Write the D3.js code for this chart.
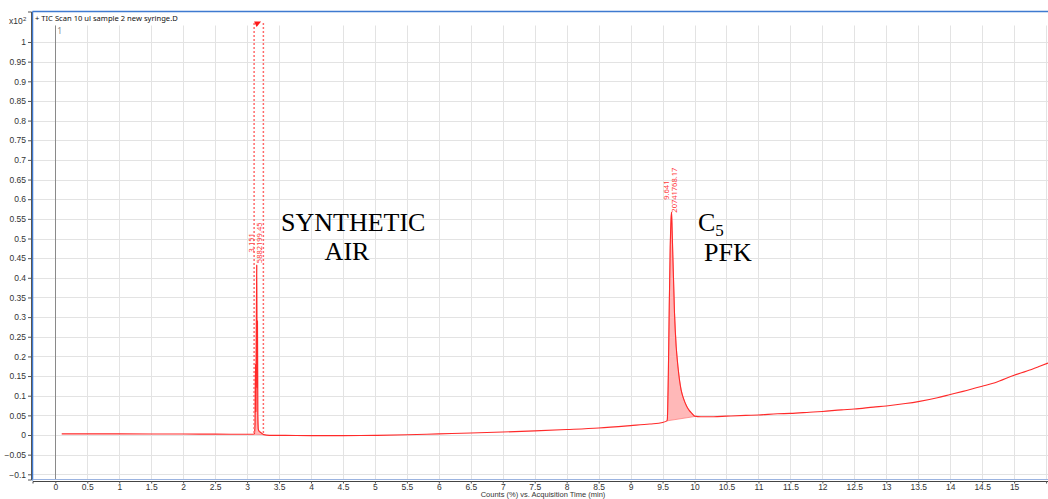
<!DOCTYPE html>
<html>
<head>
<meta charset="utf-8">
<script src="https://cdn.jsdelivr.net/npm/d3@7"></script>
<style>
  html, body { margin: 0; padding: 0; background: #fff; }
  svg { display: block; font-family: "Noto Sans", "Liberation Sans", sans-serif; }
</style>
</head>
<body>
<svg id="chart" width="1048" height="499"></svg>
<script>
// TIC chromatogram: retention time (min) vs. counts (x10^2 %)
const traceTime = [
  0.10, 0.5, 1.0, 1.5, 2.0, 2.5, 3.0, 3.10,
  3.115, 3.125, 3.131, 3.137, 3.144, 3.151, 3.157, 3.163, 3.168, 3.175, 3.19, 3.21, 3.23, 3.26,
  3.35, 3.6, 4.0, 4.5, 5.0, 5.5, 6.0, 6.5, 7.0, 7.5, 8.0, 8.5, 9.0, 9.3, 9.5, 9.568,
  9.575, 9.59, 9.605, 9.62, 9.633, 9.641, 9.65, 9.66, 9.672, 9.687, 9.713, 9.74, 9.765, 9.79,
  9.818, 9.85, 9.881, 9.92, 9.959, 10.0, 10.1, 10.3, 10.5, 10.8, 11.0, 11.3, 11.5, 11.8,
  12.0, 12.3, 12.5, 12.8, 13.0, 13.3, 13.5, 13.8, 14.0, 14.2, 14.5, 14.7, 15.0, 15.2, 15.4, 15.53
];
const traceSignal = [
  0.003, 0.003, 0.0028, 0.0026, 0.0024, 0.0022, 0.002, 0.002,
  0.004, 0.03, 0.18, 0.06, 0.26, 0.433, 0.12, 0.29, 0.05, 0.015, 0.009, 0.007, 0.004, 0.001,
  -0.001, -0.001, -0.0015, -0.0015, -0.001, 0.0005, 0.003, 0.005, 0.0075, 0.0105, 0.014, 0.018, 0.024, 0.028, 0.032, 0.036,
  0.04, 0.15, 0.33, 0.48, 0.55, 0.567, 0.52, 0.46, 0.394, 0.31, 0.225, 0.175, 0.14, 0.115,
  0.0975, 0.083, 0.072, 0.062, 0.055, 0.048, 0.0465, 0.0465, 0.048, 0.05, 0.051, 0.054, 0.055, 0.058,
  0.06, 0.064, 0.066, 0.071, 0.074, 0.08, 0.085, 0.095, 0.103, 0.111, 0.124, 0.133, 0.152, 0.163, 0.175, 0.183
];

// Integrated peaks: bounds, baseline at the bounds, apex and area
const peakStart      = [3.11, 9.568];
const peakEnd        = [3.255, 10.0];
const peakBaseStart  = [0.002, 0.036];
const peakBaseEnd    = [0.001, 0.047];
const peakApexTime   = [3.151, 9.641];
const peakApexSignal = [0.433, 0.567];
const peakArea       = [5882199.45, 20741768.17];

// Axis ticks
const xTicks = d3.range(0, 15.51, 0.5);
const yTicks = d3.range(-0.1, 1.0001, 0.05).map(v => +v.toFixed(2));

const svg = d3.select("#chart");
const W = 1048, H = 499;
const plot = { left: 32.5, right: 1048, top: 11.5, bottom: 479.5 };
const axisFont = "'Liberation Sans', Arial, sans-serif";

const x = d3.scaleLinear().domain([-0.357, 15.53]).range([plot.left, plot.right]);
const y = d3.scaleLinear().domain([-0.1132, 1.0776]).range([plot.bottom, plot.top]);

svg.append("rect").attr("width", W).attr("height", H).attr("fill", "#fff");

svg.append("defs").append("clipPath").attr("id", "plotClip")
  .append("rect")
  .attr("x", plot.left).attr("y", plot.top)
  .attr("width", plot.right - plot.left).attr("height", plot.bottom - plot.top);

const gridTop = 25.5;

// Grid
const grid = svg.append("g").attr("clip-path", "url(#plotClip)");
grid.selectAll(".vg").data(xTicks).join("line")
  .attr("x1", d => Math.round(x(d)) + 0.5).attr("x2", d => Math.round(x(d)) + 0.5)
  .attr("y1", gridTop).attr("y2", plot.bottom)
  .attr("stroke", "#e3e3e3").attr("stroke-width", 1);
grid.selectAll(".hg").data(yTicks).join("line")
  .attr("x1", plot.left).attr("x2", plot.right)
  .attr("y1", d => Math.round(y(d)) + 0.5).attr("y2", d => Math.round(y(d)) + 0.5)
  .attr("stroke", "#e3e3e3").attr("stroke-width", 1);

// Zero-time marker line
grid.append("line")
  .attr("x1", Math.round(x(0)) + 0.5).attr("x2", Math.round(x(0)) + 0.5)
  .attr("y1", gridTop).attr("y2", plot.bottom)
  .attr("stroke", "#8a8a8a").attr("stroke-width", 1);
svg.append("text")
  .attr("x", x(0) + 2).attr("y", 34)
  .attr("font-size", 8.5).attr("fill", "#8a8a8a").text("1");

const trace = traceTime.map((t, i) => [t, traceSignal[i]]);
const body = svg.append("g").attr("clip-path", "url(#plotClip)");

// Peak integration fills
peakStart.forEach((s, i) => {
  const e = peakEnd[i];
  const pts = trace.filter(p => p[0] >= s && p[0] <= e);
  const poly = [[s, peakBaseStart[i]], ...pts, [e, peakBaseEnd[i]]];
  body.append("path")
    .attr("d", d3.line().x(p => x(p[0])).y(p => y(p[1]))(poly) + "Z")
    .attr("fill", "#ffb8b8").attr("stroke", "#ff8080").attr("stroke-width", 0.8);
});

// Trace
body.append("path")
  .attr("d", d3.line().x(p => x(p[0])).y(p => y(p[1])).curve(d3.curveMonotoneX)(trace))
  .attr("fill", "none").attr("stroke", "#ff2a2a").attr("stroke-width", 1.1);

// Selected-peak range markers (first peak)
[peakStart[0], peakEnd[0]].forEach(t => {
  body.append("line")
    .attr("x1", x(t)).attr("x2", x(t))
    .attr("y1", 23).attr("y2", y(0))
    .attr("stroke", "#ff6a6a").attr("stroke-width", 1.5)
    .attr("stroke-dasharray", "2,2");
});
const tx = x(peakStart[0]);
body.append("path")
  .attr("d", `M${tx},21.5 L${tx + 7},21.5 L${tx + 2.5},27 Z`)
  .attr("fill", "#ff1a1a");

// Peak labels (rotated, centred above apex)
peakApexTime.forEach((t, i) => {
  const px = x(t), py = y(peakApexSignal[i]) - 22;
  const g = svg.append("g").attr("fill", "#ff3b3b").attr("font-size", 7.5);
  g.append("text")
    .attr("transform", `translate(${px - 2.5},${py}) rotate(-90)`)
    .attr("text-anchor", "middle").text(t.toFixed(3));
  g.append("text")
    .attr("transform", `translate(${px + 5},${py}) rotate(-90)`)
    .attr("text-anchor", "middle").text(peakArea[i].toFixed(2));
});

// Frame
svg.append("line").attr("x1", plot.left).attr("x2", plot.right)
  .attr("y1", plot.top).attr("y2", plot.top)
  .attr("stroke", "#3f7ad0").attr("stroke-width", 1.5);
svg.append("line").attr("x1", plot.left).attr("x2", plot.left)
  .attr("y1", plot.top).attr("y2", plot.bottom + 1)
  .attr("stroke", "#3f7ad0").attr("stroke-width", 1.5);
svg.append("line").attr("x1", plot.left).attr("x2", plot.right)
  .attr("y1", plot.bottom).attr("y2", plot.bottom)
  .attr("stroke", "#9bb3e0").attr("stroke-width", 1.2);

// Title inside the frame
svg.append("text").attr("x", 35).attr("y", 21)
  .attr("font-size", 7.6).attr("fill", "#111")
  .text("+ TIC Scan 10 ul sample 2 new syringe.D");

// Y axis
const yAxis = svg.append("g").attr("transform", `translate(${plot.left - 1.5},0)`)
  .call(d3.axisLeft(y).tickValues(yTicks).tickSize(3).tickPadding(2)
    .tickFormat(d => d3.format("~g")(d)));
yAxis.select(".domain").attr("stroke", "#555");
yAxis.selectAll(".tick line").attr("stroke", "#555");
yAxis.selectAll("text").attr("font-size", 8.5).attr("fill", "#333")
  .style("font-family", axisFont);

svg.append("text").attr("x", 9).attr("y", 23.5).attr("font-size", 8.5).attr("fill", "#333")
  .style("font-family", axisFont).text("x10");
svg.append("text").attr("x", 23).attr("y", 21).attr("font-size", 6).attr("fill", "#333")
  .style("font-family", axisFont).text("2");

// X axis
const xAxis = svg.append("g").attr("transform", `translate(0,${plot.bottom + 1.5})`)
  .call(d3.axisBottom(x).tickValues(xTicks).tickSize(2.5)
    .tickFormat(d => d === 15.5 ? "" : d3.format("~g")(d)));
xAxis.select(".domain").attr("stroke", "#444");
xAxis.selectAll(".tick line").attr("stroke", "#555");
xAxis.selectAll("text").attr("y", 2.7).attr("font-size", 8.5).attr("fill", "#333")
  .style("font-family", axisFont);

svg.append("text").attr("x", 543).attr("y", 497.3)
  .attr("text-anchor", "middle").attr("font-size", 7.5).attr("fill", "#333")
  .style("font-family", axisFont)
  .text("Counts (%) vs. Acquisition Time (min)");

// Compound annotations
const serif = "'Liberation Serif', 'Times New Roman', serif";
const note = (txt, xp, yp, anchor) => svg.append("text")
  .attr("x", xp).attr("y", yp).attr("text-anchor", anchor || "start")
  .style("font-family", serif).attr("font-size", 26).attr("fill", "#000").text(txt);
note("SYNTHETIC", 281, 231);
note("AIR", 347, 260, "middle");
const c5 = note("", 698, 231);
c5.append("tspan").text("C");
c5.append("tspan").attr("font-size", 17).attr("dy", 5).text("5");
note("PFK", 704, 261);
</script>
</body>
</html>
